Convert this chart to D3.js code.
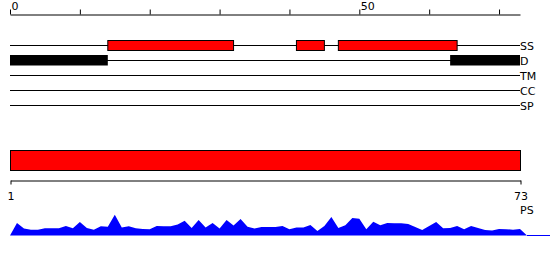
<!DOCTYPE html>
<html>
<head>
<meta charset="utf-8">
<script src="https://cdn.jsdelivr.net/npm/d3@7"></script>
<style>
  body { margin: 0; background: #fff; }
  svg text { font-family: "DejaVu Sans", sans-serif; font-size: 11px; fill: #000; }
</style>
</head>
<body>
<svg id="chart" width="550" height="260"></svg>
<script>
// sequence length and feature tracks
var seqLength = 73;
var trackNames = ["SS", "D", "TM", "CC", "SP"];
var ssSegments = [[14, 32], [41, 45], [47, 64]];
var disorderSegments = [[0, 14], [63, 73]];
var psSegments = [[0, 73]];
var bottomTicks = [1, 73];

// per-residue profile, residues 1..73
var profile = [0.42,0.23,0.19,0.19,0.24,0.24,0.24,0.32,0.24,0.45,
    0.25,0.19,0.31,0.29,0.69,0.27,0.31,0.24,0.22,0.21,
    0.32,0.31,0.31,0.37,0.49,0.25,0.52,0.27,0.42,0.23,
    0.52,0.33,0.55,0.29,0.23,0.28,0.28,0.28,0.32,0.21,
    0.27,0.27,0.35,0.15,0.32,0.62,0.25,0.34,0.58,0.56,
    0.21,0.46,0.34,0.42,0.41,0.41,0.38,0.28,0.18,0.32,
    0.45,0.24,0.25,0.32,0.21,0.32,0.25,0.18,0.17,0.22,
    0.21,0.19,0.22];

var svg = d3.select("#chart");

var x = d3.scaleLinear().domain([0, seqLength]).range([10, 520]);

// top ruler
var topAxis = d3.axisTop(x)
    .tickValues(d3.range(0, seqLength, 10))
    .tickSize(5)
    .tickSizeOuter(0)
    .tickFormat(d => d % 50 == 0 ? d : "");
var gTop = svg.append("g")
    .attr("transform", "translate(0,14.5)")
    .call(topAxis);
gTop.select(".domain").attr("stroke", "#000");
gTop.selectAll(".tick line").attr("stroke", "#000");
gTop.selectAll(".tick text")
    .attr("text-anchor", "start")
    .attr("x", 1)
    .attr("y", -5)
    .attr("dy", 0)
    .attr("font-family", null)
    .attr("font-size", null);

// feature tracks
var yTrack = d3.scalePoint().domain(trackNames).range([45, 105]);

svg.append("g").selectAll("line")
    .data(trackNames)
    .join("line")
    .attr("x1", x(0))
    .attr("x2", x(seqLength))
    .attr("y1", d => yTrack(d) + 0.5)
    .attr("y2", d => yTrack(d) + 0.5)
    .attr("stroke", "#000");

svg.append("g").selectAll("text")
    .data(trackNames)
    .join("text")
    .attr("x", x(seqLength))
    .attr("y", d => yTrack(d) + 5)
    .text(d => d);

svg.append("g").selectAll("rect")
    .data(ssSegments)
    .join("rect")
    .attr("x", d => x(d[0]))
    .attr("width", d => x(d[1]) - x(d[0]))
    .attr("y", yTrack("SS") - 4.5)
    .attr("height", 10)
    .attr("fill", "#ff0000")
    .attr("stroke", "#000");

svg.append("g").selectAll("rect")
    .data(disorderSegments)
    .join("rect")
    .attr("x", d => x(d[0]))
    .attr("width", d => x(d[1]) - x(d[0]))
    .attr("y", yTrack("D") - 5)
    .attr("height", 10.5)
    .attr("fill", "#000");

// PS bar
svg.append("g").selectAll("rect")
    .data(psSegments)
    .join("rect")
    .attr("x", d => x(d[0]) + 0.5)
    .attr("width", d => x(d[1]) - x(d[0]))
    .attr("y", 150.5)
    .attr("height", 20)
    .attr("fill", "#ff0000")
    .attr("stroke", "#000");

// residue axis
var xRes = d3.scaleLinear().domain([1, seqLength]).range([10.5, 520.5]);
var gBottom = svg.append("g")
    .attr("transform", "translate(0,180.5)")
    .call(d3.axisBottom(xRes).tickValues(bottomTicks).tickSize(4).tickSizeOuter(0));
gBottom.select(".domain").attr("stroke", "#000");
gBottom.selectAll(".tick line").attr("stroke", "#000");
gBottom.selectAll(".tick text")
    .attr("y", 12)
    .attr("font-family", null)
    .attr("font-size", null);

svg.append("text")
    .attr("x", 520)
    .attr("y", 214)
    .text("PS");

// profile area
var yProf = d3.scaleLinear().domain([0, 1]).range([235.5, 205.5]);
var pts = [[0, 0]].concat(profile.map((v, i) => [i + 1, v]), [[seqLength + 1, 0]]);

var area = d3.area()
    .x(d => x(d[0]))
    .y0(yProf(0))
    .y1(d => yProf(d[1]));

svg.append("path")
    .datum(pts)
    .attr("d", area)
    .attr("fill", "#0000ff");

svg.append("line")
    .attr("x1", x(seqLength + 1))
    .attr("x2", 550)
    .attr("y1", yProf(0))
    .attr("y2", yProf(0))
    .attr("stroke", "#0000ff");
</script>
</body>
</html>
